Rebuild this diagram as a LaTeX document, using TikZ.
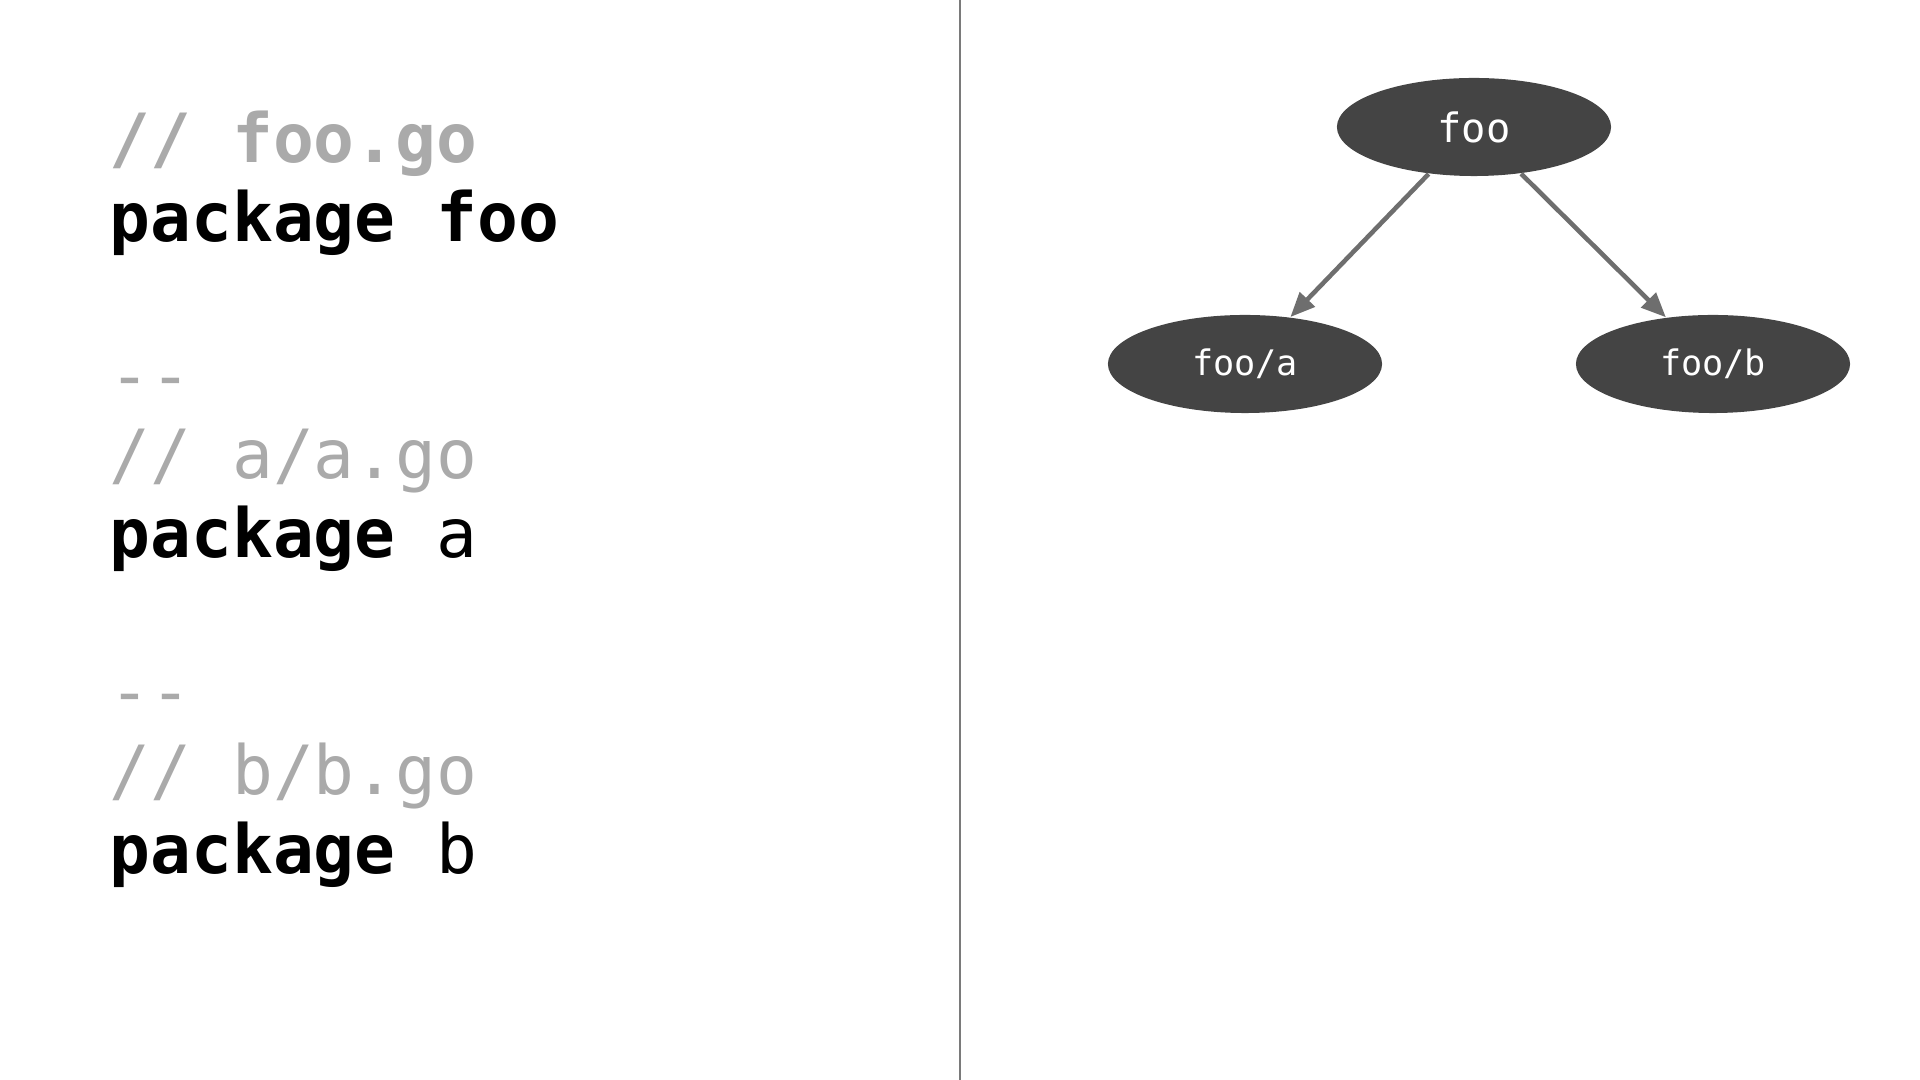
\documentclass[tikz,border=0pt]{standalone}
\usepackage{fontspec}
\setmonofont{DejaVu Sans Mono}
\usetikzlibrary{arrows.meta,shapes.geometric}
\definecolor{cmtgray}{HTML}{AAAAAA}
\definecolor{pkgfill}{HTML}{444444}
\definecolor{edgegray}{HTML}{6E6E6E}
\definecolor{rulegray}{HTML}{7A7A7A}
\begin{document}
\begin{tikzpicture}[x=0.01cm, y=-0.01cm,
    code/.style={anchor=base west, inner sep=0, font=\ttfamily\fontsize{19.3}{23}\selectfont},
    cmt/.style={code, text=cmtgray},
    pkg/.style={ellipse, fill=pkgfill, text=white, inner sep=0, minimum width=2.74cm, minimum height=0.98cm, font=\ttfamily\fontsize{10}{12}\selectfont},
    dep/.style={-{Triangle[length=7pt, width=5.8pt]}, line width=1.3pt, edgegray}
]
\useasboundingbox (0,0) rectangle (1920,1080);
\node[cmt] (hfoo) at (109,163) {\textbf{// foo.go}};
\node[code] (pfoo) at (109,242) {\textbf{package foo}};
\node[cmt] (sepa) at (109,400) {-{}-};
\node[cmt] (ha) at (109,479) {// a/a.go};
\node[code] (pa) at (109,558) {\textbf{package} a};
\node[cmt] (sepb) at (109,716) {-{}-};
\node[cmt] (hb) at (109,795) {// b/b.go};
\node[code] (pb) at (109,874) {\textbf{package} b};

\draw[rulegray, line width=0.5pt] (960,0) -- (960,1080);

\node[pkg, font=\ttfamily\fontsize{11.5}{13}\selectfont] (foo) at (1474,127) {foo};
\node[pkg] (fooa) at (1245,364) {foo/a};
\node[pkg] (foob) at (1713,364) {foo/b};

\draw[dep] (foo) -- (fooa);
\draw[dep] (foo) -- (foob);
\end{tikzpicture}
\end{document}
